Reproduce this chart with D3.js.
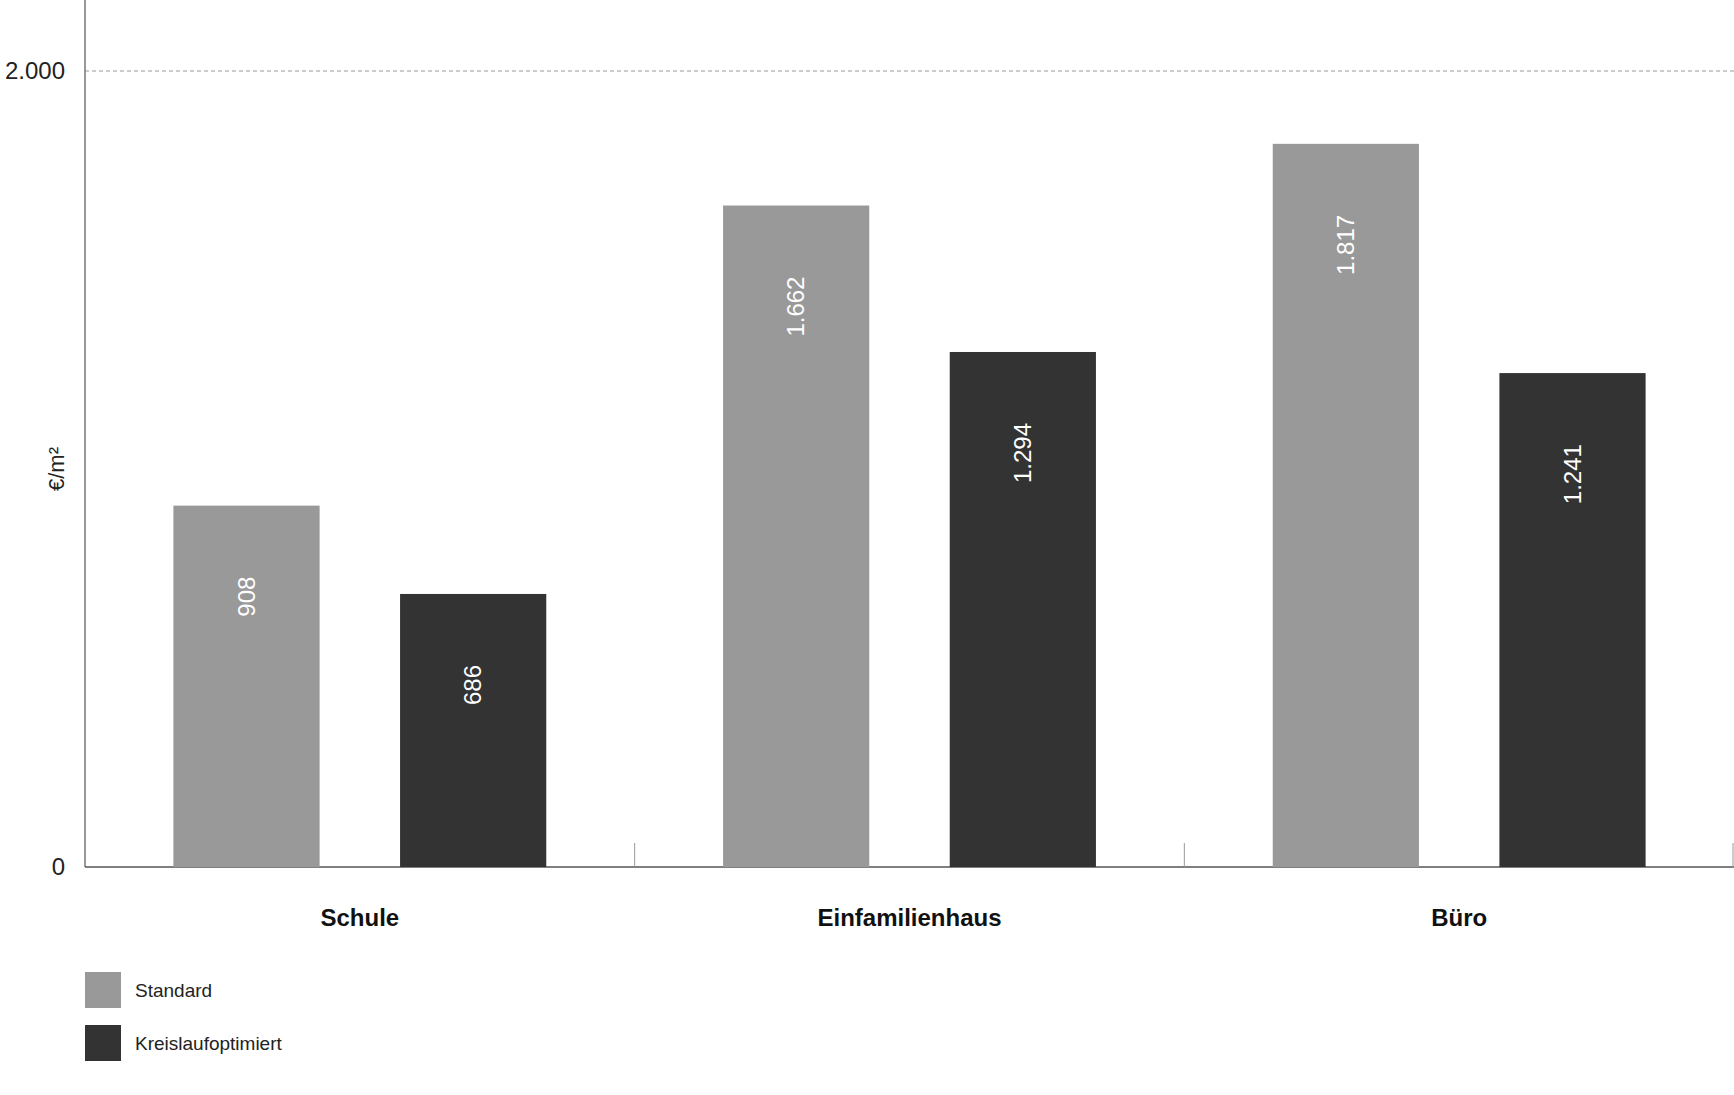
<!DOCTYPE html>
<html><head><meta charset="utf-8">
<script src="https://cdn.jsdelivr.net/npm/d3@7"></script>
<style>body{margin:0;background:#fff}text{font-family:"Liberation Sans",Arial,sans-serif}</style>
</head><body><svg id="c" width="1734" height="1095"></svg>
<script>
const categories=["Schule","Einfamilienhaus","Büro"];
const series=["Standard","Kreislaufoptimiert"];
const standard=[908,1662,1817];
const kreislauf=[686,1294,1241];
const yTicks=[0,2000];
const colors=["#999999","#333333"];
const fmt=v=>d3.format(",")(v).replace(/,/g,".");
const svg=d3.select("#c");
const L=85,R=1734,T=71,B=867;
const y=d3.scaleLinear().domain([0,2000]).range([B,T]);
const x0=d3.scaleBand().domain(categories).range([L,R]);
const x1=d3.scaleBand().domain(series).range([0,x0.bandwidth()]).paddingInner(0.355).paddingOuter(0.39);
// grid
svg.append("line").attr("x1",L).attr("x2",R).attr("y1",y(2000)).attr("y2",y(2000)).attr("stroke","#999").attr("stroke-dasharray","4,3");
svg.append("line").attr("x1",L).attr("x2",L).attr("y1",0).attr("y2",B).attr("stroke","#777").attr("stroke-width",1.5);
svg.append("line").attr("x1",L).attr("x2",R).attr("y1",B).attr("y2",B).attr("stroke","#555").attr("stroke-width",1.5);
categories.slice(1).concat(["end"]).forEach((c,i)=>{const xx=i<2?x0(categories[i+1]):R-1;
 svg.append("line").attr("x1",xx).attr("x2",xx).attr("y1",B-24).attr("y2",B).attr("stroke","#999");});
yTicks.forEach(t=>svg.append("text").attr("x",L-20).attr("y",y(t)+8).attr("text-anchor","end").attr("font-size",24).attr("fill","#222").text(fmt(t)));
svg.append("text").attr("transform",`translate(64,${(T+B)/2}) rotate(-90)`).attr("text-anchor","middle").attr("font-size",22).attr("fill","#222").text("€/m²");
const data=categories.map((c,i)=>({c,v:[standard[i],kreislauf[i]]}));
data.forEach(d=>{d.v.forEach((v,j)=>{const s=series[j];const bx=x0(d.c)+x1(s);
 svg.append("rect").attr("x",bx).attr("y",y(v)).attr("width",x1.bandwidth()).attr("height",B-y(v)).attr("fill",colors[j]);
 svg.append("text").attr("transform",`translate(${bx+x1.bandwidth()/2+8},${y(v)+71}) rotate(-90)`).attr("text-anchor","end").attr("font-size",24).attr("fill","#fff").text(fmt(v));});
 svg.append("text").attr("x",x0(d.c)+x0.bandwidth()/2).attr("y",926).attr("text-anchor","middle").attr("font-size",24).attr("font-weight","bold").attr("fill","#111").text(d.c);});
series.forEach((s,j)=>{const ly=972+j*53;
 svg.append("rect").attr("x",L).attr("y",ly).attr("width",36).attr("height",36).attr("fill",colors[j]);
 svg.append("text").attr("x",135).attr("y",ly+25).attr("font-size",19).attr("fill","#222").text(s);});
</script></body></html>
